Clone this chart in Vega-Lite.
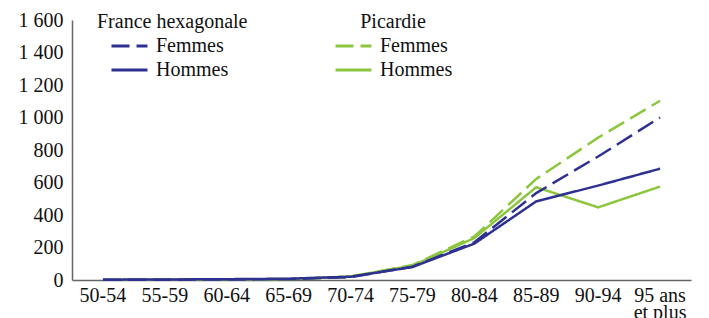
{
  "$schema": "https://vega.github.io/schema/vega-lite/v6.json",
  "autosize": "none",
  "padding": {"left": 72, "top": 20, "right": 18, "bottom": 38},
  "width": 619,
  "height": 260,
  "background": "white",
  "config": {
    "view": {"stroke": null},
    "font": "Liberation Serif",
    "axis": {"labelFont": "Liberation Serif", "labelFontSize": 20, "labelColor": "#111", "domainColor": "#666", "domainWidth": 1.5, "ticks": false, "grid": false, "title": null},
    "legend": {"labelFont": "Liberation Serif", "labelFontSize": 20, "labelColor": "#111", "titleFont": "Liberation Serif", "titleFontSize": 20, "titleFontWeight": "normal", "titleColor": "#111"},
    "text": {"font": "Liberation Serif"}
  },
  "data": {
    "values": [
      {"age": "50-54", "zone": "France hexagonale", "sexe": "Hommes", "value": 2},
      {"age": "55-59", "zone": "France hexagonale", "sexe": "Hommes", "value": 3},
      {"age": "60-64", "zone": "France hexagonale", "sexe": "Hommes", "value": 5},
      {"age": "65-69", "zone": "France hexagonale", "sexe": "Hommes", "value": 8},
      {"age": "70-74", "zone": "France hexagonale", "sexe": "Hommes", "value": 20},
      {"age": "75-79", "zone": "France hexagonale", "sexe": "Hommes", "value": 80},
      {"age": "80-84", "zone": "France hexagonale", "sexe": "Hommes", "value": 224},
      {"age": "85-89", "zone": "France hexagonale", "sexe": "Hommes", "value": 484},
      {"age": "90-94", "zone": "France hexagonale", "sexe": "Hommes", "value": 581},
      {"age": "95 ans et plus", "zone": "France hexagonale", "sexe": "Hommes", "value": 685},
      {"age": "50-54", "zone": "France hexagonale", "sexe": "Femmes", "value": 1},
      {"age": "55-59", "zone": "France hexagonale", "sexe": "Femmes", "value": 2},
      {"age": "60-64", "zone": "France hexagonale", "sexe": "Femmes", "value": 3},
      {"age": "65-69", "zone": "France hexagonale", "sexe": "Femmes", "value": 5},
      {"age": "70-74", "zone": "France hexagonale", "sexe": "Femmes", "value": 18},
      {"age": "75-79", "zone": "France hexagonale", "sexe": "Femmes", "value": 82},
      {"age": "80-84", "zone": "France hexagonale", "sexe": "Femmes", "value": 232},
      {"age": "85-89", "zone": "France hexagonale", "sexe": "Femmes", "value": 535},
      {"age": "90-94", "zone": "France hexagonale", "sexe": "Femmes", "value": 760},
      {"age": "95 ans et plus", "zone": "France hexagonale", "sexe": "Femmes", "value": 1000},
      {"age": "50-54", "zone": "Picardie", "sexe": "Hommes", "value": 1},
      {"age": "55-59", "zone": "Picardie", "sexe": "Hommes", "value": 2},
      {"age": "60-64", "zone": "Picardie", "sexe": "Hommes", "value": 4},
      {"age": "65-69", "zone": "Picardie", "sexe": "Hommes", "value": 6},
      {"age": "70-74", "zone": "Picardie", "sexe": "Hommes", "value": 22},
      {"age": "75-79", "zone": "Picardie", "sexe": "Hommes", "value": 88},
      {"age": "80-84", "zone": "Picardie", "sexe": "Hommes", "value": 258},
      {"age": "85-89", "zone": "Picardie", "sexe": "Hommes", "value": 571},
      {"age": "90-94", "zone": "Picardie", "sexe": "Hommes", "value": 447},
      {"age": "95 ans et plus", "zone": "Picardie", "sexe": "Hommes", "value": 575},
      {"age": "50-54", "zone": "Picardie", "sexe": "Femmes", "value": 1},
      {"age": "55-59", "zone": "Picardie", "sexe": "Femmes", "value": 1},
      {"age": "60-64", "zone": "Picardie", "sexe": "Femmes", "value": 2},
      {"age": "65-69", "zone": "Picardie", "sexe": "Femmes", "value": 4},
      {"age": "70-74", "zone": "Picardie", "sexe": "Femmes", "value": 20},
      {"age": "75-79", "zone": "Picardie", "sexe": "Femmes", "value": 92},
      {"age": "80-84", "zone": "Picardie", "sexe": "Femmes", "value": 268},
      {"age": "85-89", "zone": "Picardie", "sexe": "Femmes", "value": 622},
      {"age": "90-94", "zone": "Picardie", "sexe": "Femmes", "value": 876},
      {"age": "95 ans et plus", "zone": "Picardie", "sexe": "Femmes", "value": 1103}
    ]
  },
  "encoding": {
    "x": {
      "field": "age", "type": "nominal", "sort": null,
      "scale": {"type": "band", "paddingInner": 0, "paddingOuter": 0},
      "axis": {"labelAngle": 0, "labelPadding": 5, "labelLineHeight": 17, "labelFont": "Liberation Serif", "labelExpr": "datum.value == '95 ans et plus' ? ['95 ans', 'et plus'] : datum.value"}
    },
    "y": {
      "field": "value", "type": "quantitative",
      "scale": {"domain": [0, 1600], "nice": false},
      "axis": {"values": [0, 200, 400, 600, 800, 1000, 1200, 1400, 1600], "labelPadding": 9, "labelFont": "Liberation Serif", "labelExpr": "replace(format(datum.value, ','), ',', ' ')"}
    }
  },
  "layer": [
    {
      "transform": [{"filter": "datum.zone == 'Picardie'"}],
      "mark": {"type": "line", "strokeWidth": 2.5, "color": "#8cc63e", "strokeCap": "butt"},
      "encoding": {
        "strokeDash": {
          "field": "sexe", "type": "nominal",
          "scale": {"domain": ["Femmes", "Hommes"], "range": [[18, 7], [1, 0]]},
          "legend": {"title": "Picardie", "orient": "none", "legendX": 262, "legendY": -8, "titleAnchor": "middle", "titleFont": "Liberation Serif", "labelFont": "Liberation Serif", "symbolType": "stroke", "symbolSize": 1296, "symbolStrokeWidth": 3, "symbolStrokeColor": "#8cc63e", "labelOffset": 7, "clipHeight": 20, "rowPadding": 4, "titlePadding": 4}
        }
      }
    },
    {
      "transform": [{"filter": "datum.zone == 'France hexagonale'"}],
      "mark": {"type": "line", "strokeWidth": 2.5, "color": "#2e3192", "strokeCap": "butt"},
      "encoding": {
        "strokeDash": {
          "field": "sexe", "type": "nominal",
          "scale": {"domain": ["Femmes", "Hommes"], "range": [[18, 7], [1, 0]]},
          "legend": {"title": "France hexagonale", "orient": "none", "legendX": 25, "legendY": -8, "titleFont": "Liberation Serif", "labelFont": "Liberation Serif", "symbolOffset": 13, "symbolType": "stroke", "symbolSize": 1296, "symbolStrokeWidth": 3, "symbolStrokeColor": "#2e3192", "labelOffset": 7, "clipHeight": 20, "rowPadding": 4, "titlePadding": 4}
        }
      }
    }
  ],
  "resolve": {"scale": {"strokeDash": "independent"}, "legend": {"strokeDash": "independent"}}
}
